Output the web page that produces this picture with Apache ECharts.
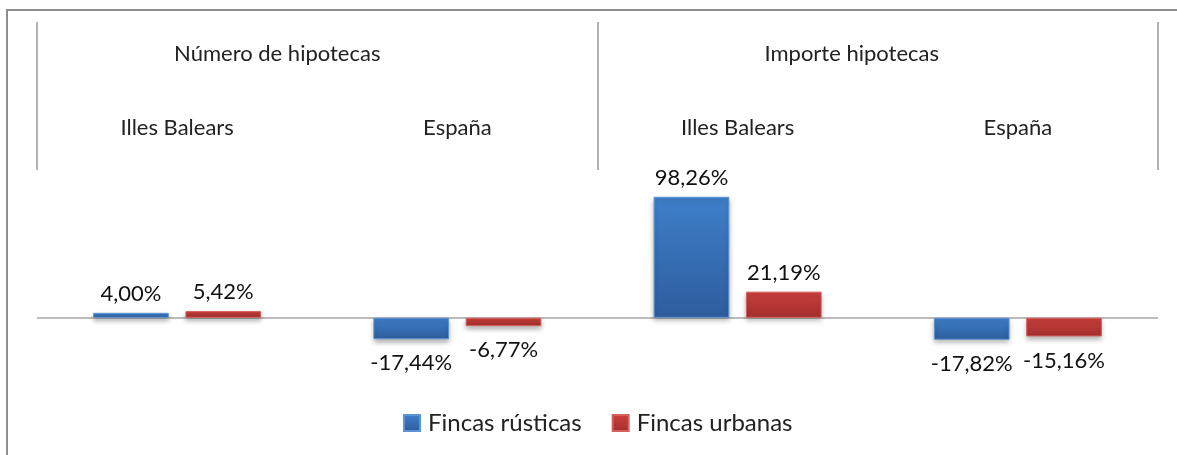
<!DOCTYPE html>
<html>
<head>
<meta charset="utf-8">
<script src="https://cdn.jsdelivr.net/npm/echarts@6/dist/echarts.min.js"></script>
<style>
  html, body { margin: 0; padding: 0; background: #fff; }
  #chart { width: 1177px; height: 455px; }
</style>
</head>
<body>
<div id="chart"></div>
<script>
// data
const groups = ['Número de hipotecas', 'Importe hipotecas']
const regions = ['Illes Balears', 'España', 'Illes Balears', 'España']
const rusticas = [4.00, -17.44, 98.26, -17.82]
const urbanas = [5.42, -6.77, 21.19, -15.16]

const font = 'Lato, "Open Sans", sans-serif'

function gradient(top, bottom) {
  return new echarts.graphic.LinearGradient(0, 0, 0, 1, [
    { offset: 0, color: top },
    { offset: 1, color: bottom }
  ])
}

// negative values get their label under the bar
function withLabels(values) {
  return values.map(v => ({
    value: v,
    label: { position: v < 0 ? 'bottom' : 'top', distance: v < 0 ? 13 : 8 }
  }))
}

function pct(p) {
  return p.value.toFixed(2).replace('.', ',') + '%'
}

const barLabel = {
  show: true,
  fontSize: 22,
  color: '#111',
  fontFamily: font,
  formatter: pct
}

const chart = echarts.init(document.getElementById('chart'), null, { renderer: 'canvas' })

chart.setOption({
  animation: false,
  textStyle: { fontFamily: font },
  graphic: [{
    type: 'rect',
    shape: { x: 7, y: 10, width: 1300, height: 600 },
    style: { fill: 'none', stroke: '#8e8e8e', lineWidth: 2 },
    silent: true
  }],
  grid: {
    left: 37,
    right: 19,
    top: 170,
    bottom: 88
  },
  legend: {
    bottom: 15,
    left: 398,
    itemWidth: 16,
    itemHeight: 16,
    itemGap: 30,
    icon: 'rect',
    textStyle: { fontFamily: font, fontSize: 24, color: '#222', padding: [0, 0, 0, 3] },
    data: ['Fincas rústicas', 'Fincas urbanas']
  },
  xAxis: [
    {
      // inner level: regions
      type: 'category',
      position: 'top',
      data: regions,
      axisLine: { show: false, onZero: false },
      axisTick: { show: false },
      axisLabel: { margin: 31, fontSize: 22, color: '#222', fontFamily: font }
    },
    {
      // outer level: groups, long ticks act as dividers
      type: 'category',
      position: 'top',
      data: groups,
      axisLine: { show: false, onZero: false },
      axisTick: { show: true, length: 148, lineStyle: { color: '#9a9a9a', width: 1.5 } },
      axisLabel: {
        margin: 105,
        fontSize: 22,
        color: '#222',
        fontFamily: font,
        // group titles sit a little left of the group centre
        formatter: (v, i) => (i === 0 ? '{a|' : '{b|') + v + '}',
        rich: {
          a: { fontSize: 22, color: '#222', fontFamily: font, padding: [0, 80, 0, 0] },
          b: { fontSize: 22, color: '#222', fontFamily: font, padding: [0, 52, 0, 0] }
        }
      }
    }
  ],
  yAxis: {
    type: 'value',
    min: -40,
    max: 120,
    show: false,
    splitLine: { show: false }
  },
  series: [
    {
      name: 'Fincas rústicas',
      type: 'bar',
      xAxisIndex: 0,
      data: withLabels(rusticas),
      barWidth: '27%',
      barGap: '22%',
      z: 3,
      itemStyle: {
        color: gradient('#3e7fcb', '#2e5d9c'),
        borderColor: '#5b93d3',
        borderWidth: 1,
        shadowColor: 'rgba(0,0,0,0.3)',
        shadowBlur: 5,
        shadowOffsetY: 3
      },
      label: barLabel,
      // zero line across the plot
      markLine: {
        silent: true,
        symbol: 'none',
        z: 1,
        label: { show: false },
        lineStyle: { color: '#a6a6a6', width: 1.5, type: 'solid' },
        data: [{ yAxis: 0 }]
      }
    },
    {
      name: 'Fincas urbanas',
      type: 'bar',
      xAxisIndex: 0,
      data: withLabels(urbanas),
      barWidth: '27%',
      barGap: '22%',
      z: 3,
      itemStyle: {
        color: gradient('#cc403d', '#a32f2d'),
        borderColor: '#d4605d',
        borderWidth: 1,
        shadowColor: 'rgba(0,0,0,0.3)',
        shadowBlur: 5,
        shadowOffsetY: 3
      },
      label: barLabel
    }
  ]
})
</script>
</body>
</html>
